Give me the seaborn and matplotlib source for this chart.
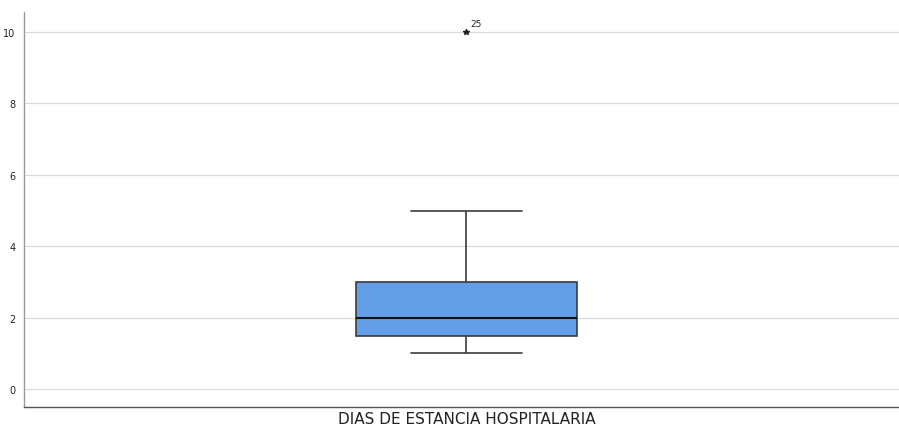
import matplotlib
matplotlib.use("Agg")
import matplotlib.pyplot as plt
import seaborn as sns
import pandas as pd

# Hospital stay (days) per case, in case order
dias = [2, 1, 3, 2, 1, 2, 4, 2, 1, 3, 2, 5, 2, 1, 3, 2, 2, 1, 4, 2,
        3, 1, 2, 5, 10, 2, 1]
variable = "DIAS DE ESTANCIA HOSPITALARIA"
yticks = [0, 2, 4, 6, 8, 10]

df = pd.DataFrame({"caso": range(1, len(dias) + 1), "dias": dias})

sns.set_theme(style="white")
plt.rcParams["font.family"] = ["DejaVu Sans"]

fig = plt.figure(figsize=(8.99, 4.31), dpi=100)
ax = fig.add_axes([0.0267, 0.0534, 0.9844, 0.9164])

sns.boxplot(
    data=df, y="dias", ax=ax, width=0.25, color="#649EE6", saturation=1,
    linecolor="#3c3c3c", linewidth=1.2,
    medianprops=dict(color="#111111", linewidth=1.5),
    flierprops=dict(marker="*", markersize=4, markerfacecolor="#222222",
                    markeredgecolor="#222222"),
    whis=1.5, zorder=3,
)

# Label the extreme case with its case number
q1, q3 = df["dias"].quantile([0.25, 0.75])
iqr = q3 - q1
for _, row in df[(df["dias"] > q3 + 1.5 * iqr) | (df["dias"] < q1 - 1.5 * iqr)].iterrows():
    ax.annotate(str(row["caso"]), xy=(0, row["dias"]), xytext=(2.5, 4),
                textcoords="offset points", fontsize=6.5, color="#222222")

ax.set_xlim(-0.5, 0.5)
ax.set_ylim(-0.5, 10.56)
ax.set_yticks(yticks)
ax.set_yticklabels([str(t) for t in yticks], fontsize=7, color="#222222")
ax.tick_params(axis="y", length=0, pad=6)
ax.set_xticks([])
ax.set_ylabel("")
ax.set_xlabel(variable, fontsize=11, color="#222222", labelpad=3)
ax.yaxis.grid(True, color="#dadada", linewidth=0.9)
ax.set_axisbelow(True)

for s in ["top", "right"]:
    ax.spines[s].set_visible(False)
ax.spines["left"].set_color("#9a9a9a")
ax.spines["bottom"].set_color("#555555")
ax.spines["left"].set_linewidth(1)
ax.spines["bottom"].set_linewidth(1)

fig.savefig("out.png", dpi=100)
